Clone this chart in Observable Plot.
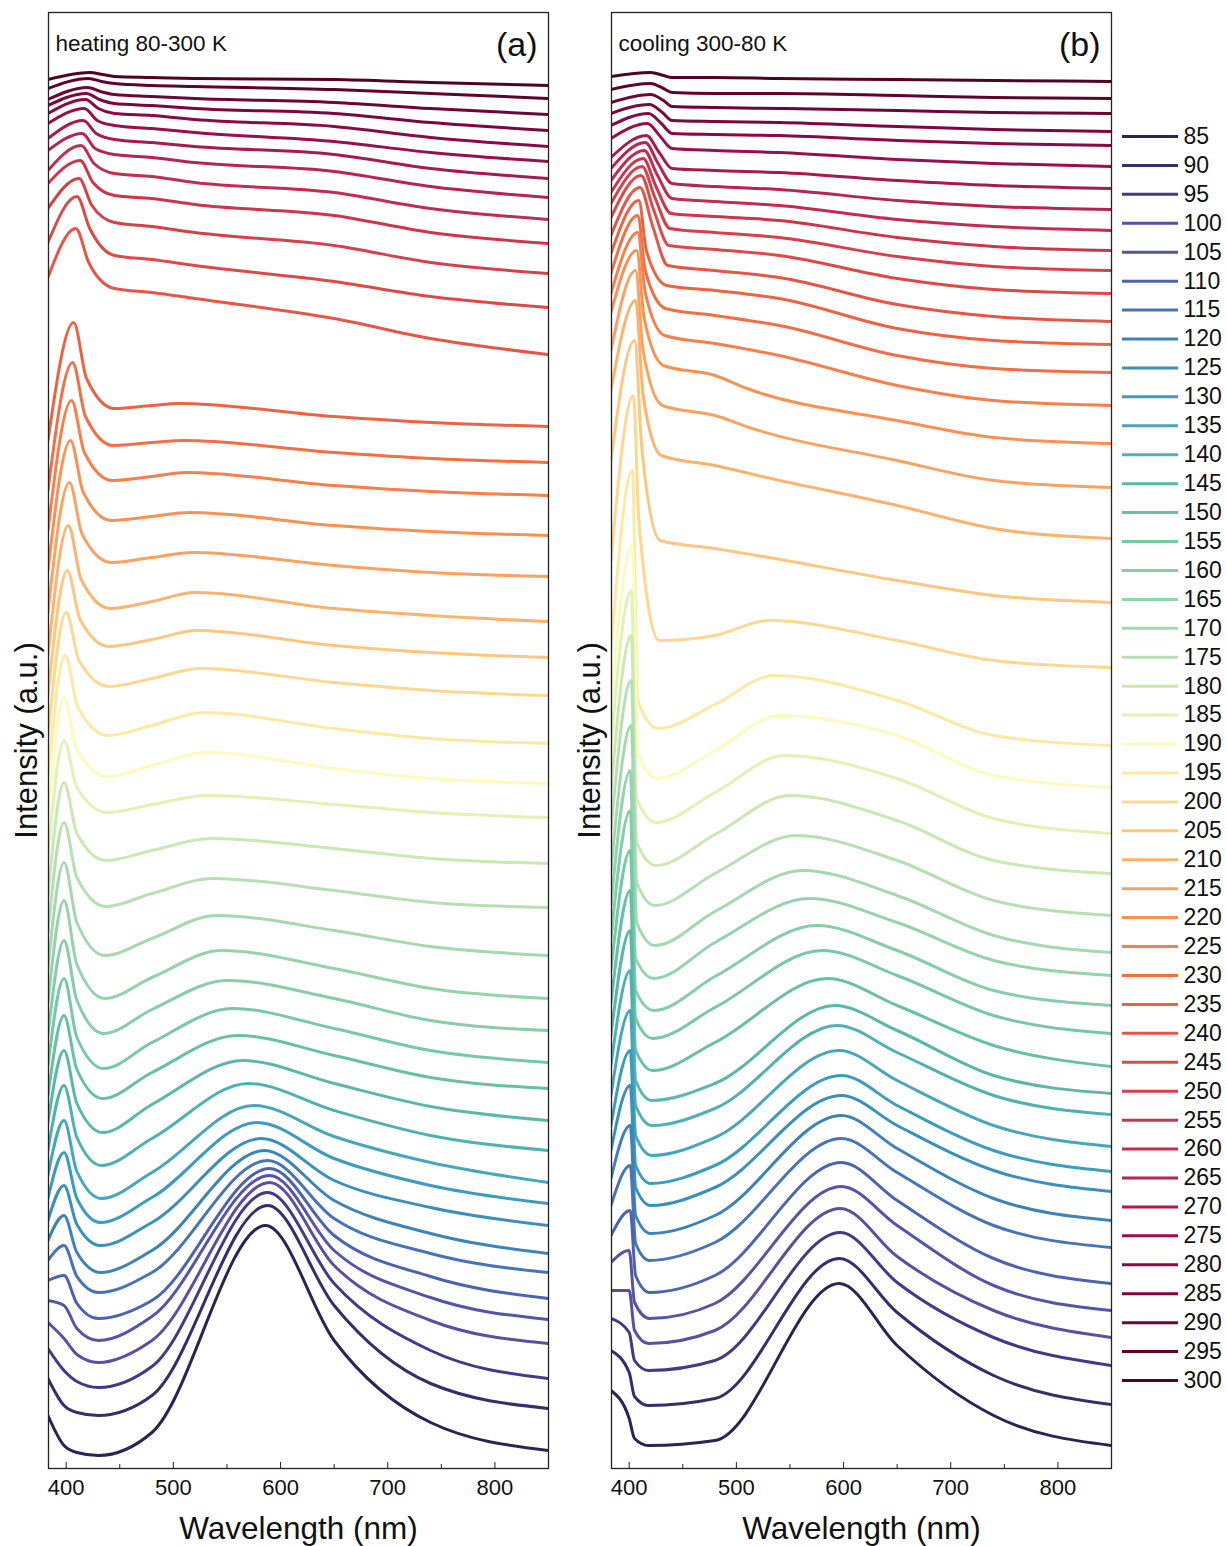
<!DOCTYPE html>
<html><head><meta charset="utf-8">
<script src="https://cdn.jsdelivr.net/npm/d3@7"></script>
<script src="https://cdn.jsdelivr.net/npm/@observablehq/plot@0.6"></script>
<style>
body{margin:0;background:#fff;font-family:"Liberation Sans",Arial,sans-serif}
#wrap{position:relative;width:1226px;height:1546px;overflow:hidden}
#wrap svg{position:absolute;top:0}
</style></head><body><div id="wrap"></div>
<script>
// Temperatures (K)
const temps = [85,90,95,100,105,110,115,120,125,130,135,140,145,150,155,160,165,170,175,180,185,190,195,200,205,210,215,220,225,230,235,240,245,250,255,260,265,270,275,280,285,290,295,300];
const palette = ["#2c2353","#372d69","#423a85","#5b4f9f","#5554a6","#4b63b0","#4674b4","#3d83b9","#3990bb","#3c9cbd","#46a7bb","#50b1b1","#5ab8a8","#66c1a4","#76c8a6","#85cea9","#95d3ad","#a5d8b0","#b7dfb4","#cbe8b3","#e1f2b5","#fafbbc","#fee9a2","#fed891","#fec77f","#fdb36e","#fca260","#f99153","#f67f4b","#f26f44","#ec6344","#e55646","#dc4a47","#d4404b","#cb364e","#c02d50","#b42551","#a51b50","#970f4c","#890a45","#7a073d","#6c0635","#5d042d","#4e0325"];
const majorTicks = [400,500,600,700,800];
const minorTicks = [450,550,650,750,850];

// ---- (a) heating: intensity (a.u., stacked) read at key wavelengths ----
const hLeft = [53,90,120,146,168,188,208,228,248,270,293,318,346,373,403,433,466,500,536,573,613,653,693,733,773,813,856,898,938,978,1028,1191,1226,1260,1285,1298,1318,1330,1345,1355,1363,1369,1380,1389];
const hPeakNm = [398,398,398,398,398,398,398,398,398,398,398,398,398,398,398,398,398,398,398,398,398,398,399,400,401,402,403,404,405,406,407,409,410,412,413,414,415,416,417,418,419,420,421,422];
const hPeak = [23,63,98,130,163,193,223,253,283,316,348,383,418,453,490,528,568,606,646,686,728,770,813,856,898,943,986,1028,1068,1106,1146,1240,1272,1290,1308,1323,1335,1348,1360,1369,1375,1381,1390,1396];
const hShoulderNm = [410,410,410,410,410,410,410,410,410,410,410,410,410,410,410,410,410,410,410,410,410,410,411,412,413,414,415,416,417,418,419,421,422,424,425,426,427,428,429,430,431,432,433,434];
const hShoulder = [16,56,87,114,140,165,192,216,244,270,297,331,365,399,431,468,504,546,591,635,681,719,761,808,849,889,934,976,1016,1052,1090,1206,1240,1263,1286,1305,1320,1335,1348,1360,1369,1377,1387,1394];
const hDipNm = [430,430,430,430,430,430,430,432,432,432,433,433,434,434,435,435,436,436,437,437,438,438,439,440,440,441,442,442,443,444,445,445,445,445,445,445,445,445,445,445,445,445,445,445];
const hDip = [13,53,81,106,128,150,176,196,223,246,270,303,336,370,400,435,470,513,562,608,656,692,733,782,822,860,906,948,988,1023,1060,1180,1213,1246,1273,1295,1314,1329,1343,1355,1365,1374,1385,1392];
const h480 = [36,73,102,128,152,168,196,218,246,271,296,330,364,396,426,459,491,530,575,618,664,703,743,790,829,867,911,952,992,1026,1063,1176,1209,1242,1270,1292,1311,1326,1340,1353,1363,1372,1383,1391];
const hBandNm = [586,588,588,590,590,590,588,585,582,578,575,570,565,560,555,550,545,540,537,535,532,530,528,525,522,520,518,515,512,510,505,520,520,520,520,520,520,520,520,520,520,520,520,520];
const hBand = [243,263,276,286,293,300,308,318,330,346,363,385,408,433,460,488,518,553,590,630,673,716,756,800,838,876,916,956,996,1028,1065,1170,1203,1236,1264,1286,1306,1322,1336,1349,1360,1370,1382,1390];
const h650 = [128,163,185,203,218,233,250,268,288,310,332,358,385,413,440,470,500,538,578,620,664,700,740,786,823,860,903,943,983,1016,1052,1150,1187,1223,1253,1276,1297,1314,1327,1342,1355,1366,1379,1389];
const h740 = [46,85,118,148,171,192,215,235,261,283,306,333,362,391,418,448,480,522,566,610,656,690,730,778,816,853,896,937,977,1010,1046,1130,1172,1206,1236,1260,1282,1300,1316,1331,1346,1360,1375,1386];
const hRight = [18,60,90,125,149,170,196,215,243,265,286,318,348,380,406,438,470,513,561,605,651,685,725,773,811,847,892,933,973,1006,1042,1114,1161,1195,1225,1249,1271,1290,1307,1322,1338,1354,1370,1383];

// ---- (b) cooling ----
const cLeft = [78,118,150,178,206,233,263,290,318,343,373,403,433,465,498,530,563,598,638,678,723,768,818,908,1008,1078,1118,1156,1175,1195,1215,1233,1251,1265,1276,1288,1300,1311,1330,1343,1355,1366,1379,1392];
const cPeakNm = [400,400,400,400,400,401,401,401,401,401,401,401,401,401,401,401,401,402,402,402,402,403,403,404,405,406,406,407,408,408,409,410,411,412,413,414,415,416,417,418,419,420,420,420];
const cPeak = [50,96,136,178,218,258,303,343,383,418,458,498,538,578,618,658,698,743,788,833,878,923,998,1073,1128,1168,1198,1218,1236,1253,1268,1281,1293,1302,1310,1318,1326,1333,1345,1355,1364,1374,1385,1396];
const cShoulderNm = [405,405,405,405,405,406,406,406,406,406,406,406,406,406,406,406,406,407,407,407,407,408,408,409,412,413,413,414,415,415,416,422,423,424,425,426,427,428,429,430,431,432,432,432];
const cShoulder = [30,72,108,138,166,193,225,253,281,303,333,363,388,418,450,478,510,546,586,626,670,716,768,948,1018,1073,1118,1150,1176,1198,1218,1242,1258,1271,1282,1294,1305,1316,1332,1345,1356,1368,1380,1393];
const cDipNm = [418,418,418,418,419,419,419,420,420,420,421,421,421,422,422,423,423,424,424,425,425,426,427,428,429,430,431,432,433,434,435,436,437,438,439,440,440,440,440,440,440,440,440,440];
const cDip = [23,63,98,125,150,176,208,235,263,285,313,343,368,398,430,458,490,523,563,603,646,690,740,828,928,1013,1063,1103,1133,1160,1183,1203,1223,1240,1255,1270,1285,1300,1320,1335,1348,1362,1376,1391];
const c480 = [28,70,108,138,165,193,226,253,281,303,331,360,385,426,461,492,526,557,595,634,676,718,764,833,920,1003,1053,1093,1125,1153,1178,1198,1219,1236,1252,1267,1282,1298,1318,1334,1347,1361,1375,1391];
const cBandNm = [596,596,597,597,598,598,598,598,598,598,596,594,592,585,580,575,568,562,556,550,545,540,535,530,525,520,515,510,540,540,540,540,540,540,540,540,540,540,540,540,540,540,540,540];
const cBand = [185,210,236,260,282,306,330,353,373,393,418,443,463,490,518,543,570,598,633,673,713,753,793,848,912,993,1040,1080,1113,1143,1170,1191,1213,1231,1248,1263,1279,1296,1316,1333,1346,1360,1375,1390];
const c650 = [123,156,186,212,243,268,296,320,343,363,388,416,438,463,493,518,546,573,608,648,690,733,768,828,888,963,1008,1048,1083,1113,1140,1164,1190,1212,1231,1249,1268,1288,1309,1328,1342,1358,1373,1389];
const c740 = [53,93,131,158,183,210,243,270,298,318,343,373,393,423,453,478,508,533,568,608,650,693,733,808,873,940,988,1031,1068,1100,1128,1152,1179,1202,1222,1242,1262,1283,1305,1325,1339,1356,1371,1388];
const cRight = [23,64,103,131,158,185,221,248,277,297,322,354,375,402,435,463,493,516,553,595,635,681,723,801,866,930,981,1025,1063,1096,1124,1147,1175,1198,1218,1238,1259,1280,1302,1323,1337,1355,1370,1387];

function buildRows(c) {
  const rows = [];
  for (let i = temps.length - 1; i >= 0; i--) {
    const T = temps[i];
    const pts = [[383, c.left[i]], [c.peakNm[i], c.peak[i]], [c.shoulderNm[i], c.shoulder[i]],
      [c.dipNm[i], c.dip[i]], [480, c.y480[i]], [c.bandNm[i], c.band[i]], [650, c.y650[i]], [740, c.y740[i]], [850, c.right[i]]];
    for (const [nm, v] of pts) rows.push({T, nm, v});
  }
  return rows;
}
const heatRows = buildRows({left:hLeft,peakNm:hPeakNm,peak:hPeak,shoulderNm:hShoulderNm,shoulder:hShoulder,dipNm:hDipNm,dip:hDip,y480:h480,bandNm:hBandNm,band:hBand,y650:h650,y740:h740,right:hRight});
const coolRows = buildRows({left:cLeft,peakNm:cPeakNm,peak:cPeak,shoulderNm:cShoulderNm,shoulder:cShoulder,dipNm:cDipNm,dip:cDip,y480:c480,bandNm:cBandNm,band:cBand,y650:c650,y740:c740,right:cRight});
const colorOf = T => palette[temps.indexOf(T)];
const FONT = "Liberation Sans, Arial, Helvetica, sans-serif";

function panel(rows, note, tag) {
  return Plot.plot({
    width: 560, height: 1546, marginLeft: 48, marginRight: 12, marginTop: 12, marginBottom: 78,
    x: {domain: [383.5, 850]},
    y: {domain: [0, 1456], axis: null},
    style: {fontFamily: FONT, color: "#111", background: "transparent", overflow: "visible"},
    marks: [
      Plot.line(rows, {x: "nm", y: "v", z: "T", stroke: d => colorOf(d.T), strokeWidth: 3, curve: "monotone-x", clip: true}),
      Plot.frame({stroke: "#222", strokeWidth: 1.3}),
      Plot.axisX(minorTicks, {tickSize: -4, tickFormat: () => "", label: null, stroke: "#222"}),
      Plot.axisX(majorTicks, {tickSize: -6, tickPadding: 17, fontSize: 22, label: null, stroke: "#222"}),
      Plot.text([note], {frameAnchor: "top-left", dx: 7, dy: 31, lineAnchor: "middle", fontSize: 22.5, textAnchor: "start"}),
      Plot.text([tag], {frameAnchor: "top-right", dx: -11, dy: 33, lineAnchor: "middle", fontSize: 34, textAnchor: "end"}),
      Plot.text(["Intensity (a.u.)"], {frameAnchor: "left", rotate: -90, dx: -21, textAnchor: "middle", lineAnchor: "middle", fontSize: 31}),
      Plot.text(["Wavelength (nm)"], {frameAnchor: "bottom", dy: 60, lineAnchor: "middle", fontSize: 31.5})
    ]
  });
}

const wrap = document.getElementById("wrap");
const pa = panel(heatRows, "heating 80-300 K", "(a)");
pa.style.left = "0px";
wrap.appendChild(pa);
const pb = panel(coolRows, "cooling 300-80 K", "(b)");
pb.style.left = "563px";
wrap.appendChild(pb);

const legend = Plot.plot({
  width: 114, height: 1546, marginLeft: 10, marginRight: 48, marginTop: 136, marginBottom: 166,
  x: {domain: [0, 1], axis: null},
  y: {type: "point", domain: temps, axis: null, padding: 0},
  style: {fontFamily: FONT, color: "#111", background: "transparent", overflow: "visible"},
  marks: [
    Plot.ruleY(temps, {y: d => d, x1: 0, x2: 1, stroke: d => colorOf(d), strokeWidth: 3}),
    Plot.text(temps, {y: d => d, x: 1, dx: 5, text: d => String(d), textAnchor: "start", fontSize: 23})
  ]
});
legend.style.left = "1112px";
wrap.appendChild(legend);
</script></body></html>
